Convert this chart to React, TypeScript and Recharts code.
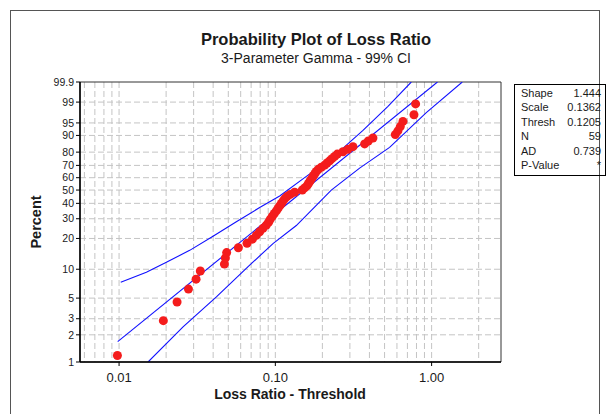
import {
  CartesianGrid,
  ComposedChart,
  Line,
  ReferenceArea,
  Scatter,
  XAxis,
  YAxis,
} from "recharts";

// fitted parameters shown in the stats box
const SHAPE = 1.444;
const STATS: [string, string][] = [
  ["Shape", "1.444"],
  ["Scale", "0.1362"],
  ["Thresh", "0.1205"],
  ["N", "59"],
  ["AD", "0.739"],
  ["P-Value", "*"],
];

// loss ratio - threshold, sorted
const POINT_X = [
  0.00976, 0.0192, 0.0235, 0.0278, 0.0311, 0.0331, 0.0472, 0.0479, 0.0488, 0.058,
  0.0659, 0.0713, 0.0756, 0.0794, 0.0834, 0.0876, 0.0907, 0.0929, 0.0957, 0.0985,
  0.1015, 0.104, 0.1066, 0.1093, 0.1119, 0.1147, 0.1187, 0.1247, 0.1329, 0.1488,
  0.154, 0.1594, 0.1626, 0.1658, 0.169, 0.1724, 0.1758, 0.1793, 0.1829, 0.1884,
  0.1969, 0.2068, 0.2141, 0.2226, 0.2304, 0.2396, 0.2492, 0.2709, 0.2916, 0.3139,
  0.3727, 0.3935, 0.4213, 0.5855, 0.6089, 0.6303, 0.6556, 0.7709, 0.7899,
];
// plotted percent for each point
const POINT_PCT = [
  1.18, 2.86, 4.55, 6.23, 7.91, 9.6, 11.28, 12.96, 14.65, 16.33,
  18.01, 19.7, 21.38, 23.06, 24.75, 26.43, 28.11, 29.8, 31.48, 33.16,
  34.85, 36.53, 38.22, 39.9, 41.58, 43.27, 44.95, 46.63, 48.32, 50.0,
  51.68, 53.37, 55.05, 56.73, 58.42, 60.1, 61.78, 63.47, 65.15, 66.84,
  68.52, 70.2, 71.89, 73.57, 75.25, 76.94, 78.62, 80.3, 81.99, 83.67,
  85.35, 87.04, 88.72, 90.4, 92.09, 93.77, 95.45, 97.14, 98.82,
];

const FIT_X = [0.0098, 1.09];
const FIT_PCT = [1.68, 99.9];

const UPPER_X = [0.01025, 0.01495, 0.02008, 0.02831, 0.03993, 0.05629, 0.07939, 0.1066, 0.1579, 0.2338, 0.3638, 0.5256, 0.7413];
const UPPER_PCT = [7.36, 9.3, 11.78, 15.41, 20.99, 28.26, 37.1, 45.4, 61.1, 76.4, 92.25, 98.53, 99.9];

const LOWER_X = [0.01533, 0.02567, 0.04195, 0.06852, 0.0966, 0.1362, 0.2281, 0.3462, 0.5385, 0.9245, 1.571];
const LOWER_PCT = [1.0, 2.45, 5.16, 11.0, 17.9, 26.2, 50.0, 67.8, 83.2, 97.55, 99.9];

const PCT_TICKS = [1, 2, 3, 5, 10, 20, 30, 40, 50, 60, 70, 80, 90, 95, 99, 99.9];
const X_TICKS = [0.01, 0.1, 1];
const X_GRID = [
  0.006, 0.007, 0.008, 0.009, 0.01, 0.02, 0.03, 0.04, 0.05, 0.06, 0.07, 0.08, 0.09,
  0.1, 0.2, 0.3, 0.4, 0.5, 0.6, 0.7, 0.8, 0.9, 1, 2,
];

const X_MIN = Math.pow(10, -2.25);
const X_MAX = Math.pow(10, 0.444);

const RED = "#f41c1c";
const BLUE = "#1010ff";
const GRID = "#c4c4c4";
const TEXT = "#1a1a1a";
const FONT = "'Liberation Sans', Arial, sans-serif";

// gamma helpers for the probability axis
function lnGamma(z: number): number {
  const g = 7;
  const c = [
    0.99999999999980993, 676.5203681218851, -1259.1392167224028, 771.32342877765313,
    -176.61502916214059, 12.507343278686905, -0.13857109526572012, 9.9843695780195716e-6,
    1.5056327351493116e-7,
  ];
  if (z < 0.5) return Math.log(Math.PI / Math.sin(Math.PI * z)) - lnGamma(1 - z);
  z -= 1;
  let x = c[0];
  for (let i = 1; i < g + 2; i++) x += c[i] / (z + i);
  const t = z + g + 0.5;
  return 0.5 * Math.log(2 * Math.PI) + (z + 0.5) * Math.log(t) - t + Math.log(x);
}

function gammaP(a: number, x: number): number {
  if (x <= 0) return 0;
  const gln = lnGamma(a);
  if (x < a + 1) {
    let ap = a;
    let sum = 1 / a;
    let del = sum;
    for (let n = 0; n < 300; n++) {
      ap += 1;
      del *= x / ap;
      sum += del;
      if (Math.abs(del) < Math.abs(sum) * 1e-14) break;
    }
    return sum * Math.exp(-x + a * Math.log(x) - gln);
  }
  let b = x + 1 - a;
  let c = 1 / 1e-300;
  let d = 1 / b;
  let h = d;
  for (let i = 1; i < 300; i++) {
    const an = -i * (i - a);
    b += 2;
    d = an * d + b;
    if (Math.abs(d) < 1e-300) d = 1e-300;
    c = b + an / c;
    if (Math.abs(c) < 1e-300) c = 1e-300;
    d = 1 / d;
    const del = d * c;
    h *= del;
    if (Math.abs(del - 1) < 1e-14) break;
  }
  return 1 - Math.exp(-x + a * Math.log(x) - gln) * h;
}

// ln of the gamma quantile: the y position of a percent
function toY(pct: number): number {
  const p = pct / 100;
  let lo = -30;
  let hi = 6;
  for (let i = 0; i < 90; i++) {
    const mid = (lo + hi) / 2;
    if (gammaP(SHAPE, Math.exp(mid)) < p) lo = mid;
    else hi = mid;
  }
  return (lo + hi) / 2;
}

const Y_TICKS = PCT_TICKS.map(toY);
const Y_MIN = Y_TICKS[0];
const Y_MAX = Y_TICKS[Y_TICKS.length - 1];

function toRows(xs: number[], pcts: number[]) {
  return xs.map((x, i) => ({ x, y: toY(pcts[i]) }));
}

const pointData = toRows(POINT_X, POINT_PCT);
const fitData = toRows(FIT_X, FIT_PCT);
const upperData = toRows(UPPER_X, UPPER_PCT);
const lowerData = toRows(LOWER_X, LOWER_PCT);

function yLabel(v: number) {
  let best = 0;
  Y_TICKS.forEach((t, i) => {
    if (Math.abs(t - v) < Math.abs(Y_TICKS[best] - v)) best = i;
  });
  return String(PCT_TICKS[best]);
}

const dot = (props: any) => <circle cx={props.cx} cy={props.cy} r={4.5} fill={RED} />;

export default function App() {
  return (
    <div
      style={{
        position: "relative",
        width: 607,
        height: 414,
        overflow: "hidden",
        background: "#fff",
        fontFamily: FONT,
        color: TEXT,
      }}
    >
      <style>{"body{margin:0}"}</style>
      <div
        style={{
          position: "absolute",
          left: 10,
          top: 10,
          width: 588,
          height: 420,
          border: "1px solid #555",
        }}
      />
      <div style={{ position: "absolute", left: 116, width: 400, top: 30, textAlign: "center", fontSize: 16.5, fontWeight: 700 }}>
        Probability Plot of Loss Ratio
      </div>
      <div style={{ position: "absolute", left: 116, width: 400, top: 50, textAlign: "center", fontSize: 14 }}>
        3-Parameter Gamma - 99% CI
      </div>

      <div style={{ position: "absolute", left: 0, top: 0 }}>
        <ComposedChart width={607} height={414} margin={{ top: 82, right: 106, bottom: 22, left: 30 }}>
          <CartesianGrid
            stroke={GRID}
            strokeDasharray="6 3"
            verticalValues={X_GRID}
            horizontalValues={Y_TICKS.slice(1, -1)}
          />
          <ReferenceArea x1={X_MIN} x2={X_MAX} y1={Y_MIN} y2={Y_MAX} fill="none" stroke="#333" strokeWidth={1} />
          <XAxis
            type="number"
            dataKey="x"
            scale="log"
            domain={[X_MIN, X_MAX]}
            allowDataOverflow
            ticks={X_TICKS}
            interval={0}
            height={30}
            tickSize={4}
            tickMargin={7}
            tickFormatter={(v: number) => v.toFixed(2)}
            tick={{ fill: TEXT, fontSize: 13, fontFamily: FONT }}
            axisLine={{ stroke: "#000", strokeWidth: 1.5 }}
            tickLine={{ stroke: "#000" }}
          />
          <YAxis
            type="number"
            dataKey="y"
            domain={[Y_MIN, Y_MAX]}
            allowDataOverflow
            ticks={Y_TICKS}
            interval={0}
            width={50}
            tickSize={4}
            tickMargin={2}
            tickFormatter={yLabel}
            tick={{ fill: TEXT, fontSize: 10.5, fontFamily: FONT }}
            axisLine={{ stroke: "#000", strokeWidth: 1.5 }}
            tickLine={{ stroke: "#000" }}
          />
          <Line data={upperData} dataKey="y" type="linear" stroke={BLUE} strokeWidth={1.1} dot={false} activeDot={false} isAnimationActive={false} />
          <Line data={fitData} dataKey="y" type="linear" stroke={BLUE} strokeWidth={1.1} dot={false} activeDot={false} isAnimationActive={false} />
          <Line data={lowerData} dataKey="y" type="linear" stroke={BLUE} strokeWidth={1.1} dot={false} activeDot={false} isAnimationActive={false} />
          <Scatter data={pointData} dataKey="y" fill={RED} shape={dot} isAnimationActive={false} />
        </ComposedChart>
      </div>

      <div
        style={{
          position: "absolute",
          left: 36,
          top: 222,
          transform: "translate(-50%, -50%) rotate(-90deg)",
          fontSize: 14.5,
          fontWeight: 700,
          whiteSpace: "nowrap",
        }}
      >
        Percent
      </div>
      <div style={{ position: "absolute", left: 140, width: 300, top: 386, textAlign: "center", fontSize: 14, fontWeight: 700 }}>
        Loss Ratio - Threshold
      </div>

      <div
        style={{
          position: "absolute",
          left: 514,
          top: 84,
          width: 90,
          height: 89,
          border: "1px solid #000",
          padding: "1px 0 0 0",
          fontSize: 11,
          lineHeight: "14.4px",
        }}
      >
        {STATS.map(([k, v]) => (
          <div key={k} style={{ display: "flex", justifyContent: "space-between", padding: "0 4px 0 6px" }}>
            <span>{k}</span>
            <span>{v}</span>
          </div>
        ))}
      </div>
    </div>
  );
}
